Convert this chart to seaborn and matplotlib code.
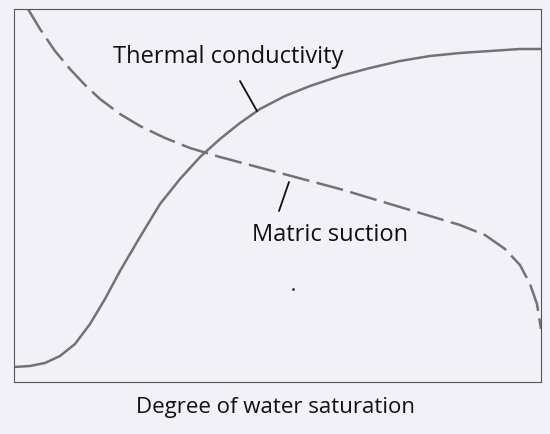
import matplotlib
matplotlib.use("Agg")
import matplotlib.pyplot as plt
import seaborn as sns
import pandas as pd

# Hand-drawn sketch, values read in picture pixel units (x right, y down)
thermal_x = [14, 30, 45, 60, 75, 90, 105, 120, 140, 160, 180, 200, 220, 240, 260, 285, 310, 340, 370, 400, 430, 460, 490, 520, 541]
thermal_y = [368, 367, 364, 357, 345, 325, 300, 272, 238, 205, 180, 158, 140, 124, 110, 97, 87, 77, 69, 62, 57, 54, 52, 50, 50]
suction_x = [28, 40, 55, 70, 85, 100, 120, 140, 165, 190, 220, 250, 280, 310, 340, 370, 400, 430, 460, 485, 505, 520, 530, 537, 541]
suction_y = [10, 30, 52, 70, 86, 100, 115, 127, 139, 149, 158, 166, 174, 182, 190, 199, 208, 217, 226, 236, 250, 266, 285, 305, 330]

sns.set_style("white")
plt.rcParams['font.family'] = ['Open Sans', 'DejaVu Sans']

bg = '#f2f1f7'
fig = plt.figure(figsize=(5.5, 4.35), dpi=100, facecolor=bg)
ax = fig.add_axes([14 / 550, 1 - 383 / 435, 527 / 550, 373 / 435], facecolor=bg)

df_t = pd.DataFrame({'x': thermal_x, 'y': thermal_y})
df_s = pd.DataFrame({'x': suction_x, 'y': suction_y})
sns.lineplot(data=df_t, x='x', y='y', ax=ax, color='#737377', lw=1.8, sort=False)
sns.lineplot(data=df_s, x='x', y='y', ax=ax, color='#737377', lw=1.8, sort=False,
             dashes=False, linestyle=(0, (11, 3)))

ax.set_xlim(14, 541)
ax.set_ylim(383, 10)
ax.set_xticks([])
ax.set_yticks([])
ax.set_xlabel('')
ax.set_ylabel('')
for s in ax.spines.values():
    s.set_color('#555555')
    s.set_linewidth(0.8)

ax.text(228, 57, 'Thermal conductivity', fontsize=17, ha='center', va='center', color='#111111')
ax.plot([240, 257], [82, 112], color='#111111', lw=1.3)
ax.text(330, 235, 'Matric suction', fontsize=17, ha='center', va='center', color='#111111')
ax.plot([289, 279], [183, 212], color='#111111', lw=1.3)
ax.plot([293], [290], marker='.', color='#333333', ms=2)

fig.text(0.5, 1 - 408 / 435, 'Degree of water saturation', fontsize=16, ha='center', va='center', color='#111111')

fig.savefig('out.png', dpi=100, facecolor=bg)
